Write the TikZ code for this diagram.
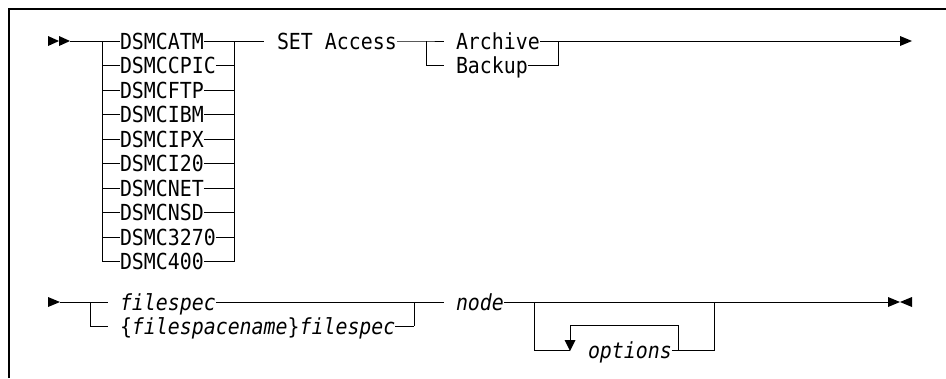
\documentclass[tikz,border=0pt]{standalone}
\usepackage{fontspec}
\newfontfamily\rrmono[FakeStretch=0.9]{DejaVu Sans Mono}
\tikzset{
  rail/.style={line width=1pt},
  framestyle/.style={line width=1.2pt},
  txt/.style={anchor=base west, inner sep=0pt, outer sep=0pt, font=\rrmono\fontsize{22.1}{26}\selectfont},
  tri/.style={fill=black, draw=none}
}
\begin{document}
\begin{tikzpicture}[x=1pt,y=-1pt]
\useasboundingbox (0,0) rectangle (946,378);
% frame
\coordinate (fa) at (9,378);
\coordinate (fb) at (9,9);
\coordinate (fc) at (946,9);
\draw[framestyle] (fa) -- (fb) -- (fc);

% ---------- row 1 ----------
\fill[tri] (48,36) -- (59,41) -- (48,46) -- cycle;
\fill[tri] (59,36) -- (70,41) -- (59,46) -- cycle;
\coordinate (s1) at (70,41);
\foreach \t [count=\i from 0] in {DSMCATM,DSMCCPIC,DSMCFTP,DSMCIBM,DSMCIPX,DSMCI20,DSMCNET,DSMCNSD,DSMC3270,DSMC400} {
  \node[txt] (d\i) at (120,{41+24.5*\i+8}) {\t};
  \coordinate (l\i) at (102,{41+24.5*\i});
  \coordinate (r\i) at (234,{41+24.5*\i});
  \draw[rail] (l\i) -- (l\i -| d\i.west);
  \draw[rail] (d\i.east |- r\i) -- (r\i);
}
\draw[rail] (s1) -- (l0) -- (l9);
\draw[rail] (r0) -- (r9);
\node[txt] (set) at (277,49) {SET Access};
\coordinate (k0) at (264,41);
\draw[rail] (r0) -- (k0);
\coordinate (a0) at (426,41);
\coordinate (a1) at (426,65.5);
\coordinate (g0) at (444,41);
\coordinate (g1) at (444,65.5);
\node[txt] (arch) at (456,49) {Archive};
\node[txt] (back) at (456,73.5) {Backup};
\coordinate (b0) at (558,41);
\coordinate (b1) at (558,65.5);
\coordinate (e1) at (900,41);
\draw[rail] (set.east |- a0) -- (a0) -- (g0);
\draw[rail] (a0) -- (a1) -- (g1);
\draw[rail] (arch.east |- b0) -- (b0);
\draw[rail] (back.east |- b1) -- (b1) -- (b0) -- (e1);
\fill[tri] (900,36) -- (912,41) -- (900,46) -- cycle;

% ---------- row 2 ----------
\fill[tri] (48,297) -- (60,302) -- (48,307) -- cycle;
\coordinate (s2) at (60,302);
\coordinate (v0) at (90,302);
\coordinate (v1) at (90,326);
\coordinate (h0) at (108,302);
\coordinate (h1) at (108,326);
\node[txt] (fs) at (120,310) {\textit{filespec}};
\node[txt] (fsn) at (120,334) {\{\textit{filespacename}\}\textit{filespec}};
\coordinate (w0) at (414,302);
\coordinate (w1) at (414,326);
\coordinate (w2) at (444,302);
\draw[rail] (s2) -- (h0);
\draw[rail] (v0) -- (v1) -- (h1);
\draw[rail] (fs.east |- w0) -- (w0) -- (w1);
\draw[rail] (fsn.east |- w1) -- (w1);
\draw[rail] (w0) -- (w2);
\node[txt] (nd) at (456,310) {\textit{node}};
\coordinate (e2) at (888,302);
\draw[rail] (nd.east |- e2) -- (e2);
\fill[tri] (888,297) -- (900,302) -- (888,307) -- cycle;
\fill[tri] (912,297) -- (900,302) -- (912,307) -- cycle;
% options loop
\coordinate (o0) at (534,302);
\coordinate (o1) at (534,350);
\coordinate (o2) at (570,350);
\coordinate (p0) at (570,340);
\coordinate (p1) at (570,325);
\coordinate (p2) at (678,325);
\coordinate (p3) at (678,350);
\coordinate (q1) at (714,350);
\coordinate (q0) at (714,302);
\node[txt] (opt) at (588,358) {\textit{options}};
\draw[rail] (o0) -- (o1) -- (o2);
\draw[rail] (p0) -- (p1) -- (p2) -- (p3);
\draw[rail] (opt.east |- q1) -- (q1) -- (q0);
\fill[tri] (564.5,340) -- (575.5,340) -- (570,351) -- cycle;
\end{tikzpicture}
\end{document}
